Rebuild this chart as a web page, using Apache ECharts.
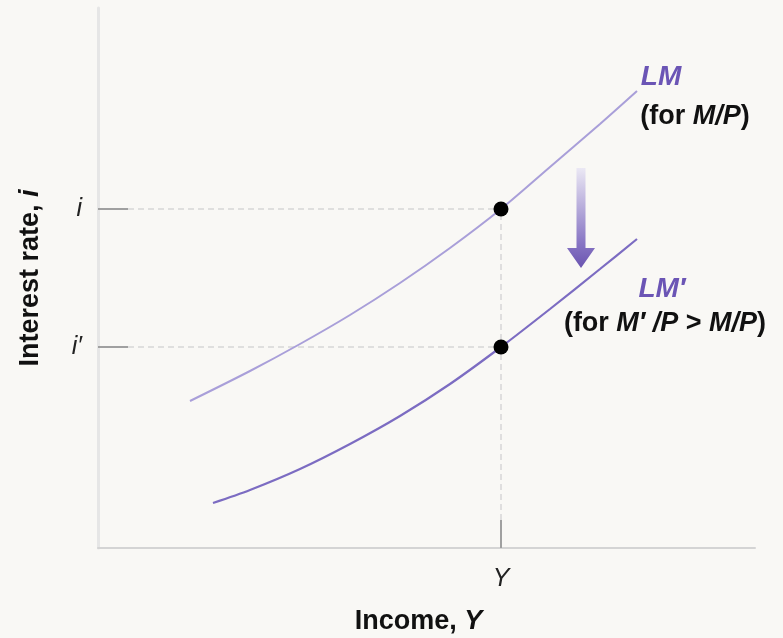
<!DOCTYPE html>
<html>
<head>
<meta charset="utf-8">
<script src="https://cdn.jsdelivr.net/npm/echarts@6/dist/echarts.min.js"></script>
<style>
  html, body { margin: 0; padding: 0; background: #f9f8f5; }
  #chart { width: 783px; height: 638px; }
</style>
</head>
<body>
<div id="chart"></div>
<script>
// Income (horizontal) and interest rate (vertical) in diagram units
const incomeLM = [92, 152, 202, 252, 302, 352, 403, 452, 502, 539];
const rateLM = [147, 177, 204, 233, 265, 300, 339, 381, 424, 457];
const incomeLM2 = [115, 152, 202, 252, 302, 352, 403, 452, 502, 539];
const rateLM2 = [45, 58, 79, 104, 132, 164, 201, 239, 279, 309];

// Equilibrium income and the two interest rates
const eqIncome = 403;
const eqRates = [339, 201];
const rateTickLabels = ['i', 'i\u2032'];
const incomeTickLabels = ['Y'];

const FONT = '"Liberation Sans", Arial, Helvetica, sans-serif';
const purpleText = '#6b55b5';
const FS = 27;

const chart = echarts.init(document.getElementById('chart'), null, { renderer: 'canvas' });

const pairs = (xs, ys) => xs.map((x, k) => [x, ys[k]]);

chart.setOption({
  backgroundColor: '#f9f8f5',
  animation: false,
  grid: { left: 98, right: 28, top: 8, bottom: 90, containLabel: false, outerBoundsMode: 'none' },
  xAxis: {
    type: 'value', min: 0, max: 657,
    splitLine: { show: false },
    axisLine: { show: true, lineStyle: { color: '#d4d4d4', width: 2 } },
    axisTick: { show: true, inside: true, length: 28, customValues: [eqIncome],
      lineStyle: { color: '#a0a0a0', width: 2 } },
    axisLabel: { customValues: [eqIncome], margin: 19,
      formatter: () => incomeTickLabels[0],
      fontFamily: FONT, fontSize: 25, fontStyle: 'italic', color: '#222' },
    name: '{b|Income, }{bi|Y}',
    nameLocation: 'middle', nameGap: 60,
    nameTextStyle: {
      padding: [0, 16, 0, 0],
      rich: {
        b: { fontFamily: FONT, fontSize: FS, fontWeight: 'bold', color: '#111' },
        bi: { fontFamily: FONT, fontSize: FS, fontWeight: 'bold', fontStyle: 'italic', color: '#111' }
      }
    }
  },
  yAxis: {
    type: 'value', min: 0, max: 540,
    splitLine: { show: false },
    axisLine: { show: true, lineStyle: { color: '#e6e6e6', width: 3 } },
    axisTick: { show: true, inside: true, length: 30, customValues: eqRates,
      lineStyle: { color: '#a0a0a0', width: 2 } },
    axisLabel: { customValues: eqRates, margin: 16,
      formatter: (v) => rateTickLabels[eqRates.indexOf(v)],
      fontFamily: FONT, fontSize: 25, fontStyle: 'italic', color: '#222' },
    name: '{b|Interest rate, }{bi|i}',
    nameLocation: 'middle', nameGap: 54,
    nameTextStyle: {
      rich: {
        b: { fontFamily: FONT, fontSize: FS, fontWeight: 'bold', color: '#111' },
        bi: { fontFamily: FONT, fontSize: FS, fontWeight: 'bold', fontStyle: 'italic', color: '#111' }
      }
    }
  },
  series: [
    {
      // Dashed guides from the axes to the equilibrium points
      type: 'line', silent: true, symbol: 'none',
      data: [[30, eqRates[0]], [eqIncome, eqRates[0]]],
      lineStyle: { color: '#d6d6d6', width: 1.5, type: [6, 4] }
    },
    {
      type: 'line', silent: true, symbol: 'none',
      data: [[30, eqRates[1]], [eqIncome, eqRates[1]]],
      lineStyle: { color: '#d6d6d6', width: 1.5, type: [6, 4] }
    },
    {
      type: 'line', silent: true, symbol: 'none',
      data: [[eqIncome, 28], [eqIncome, eqRates[0]]],
      lineStyle: { color: '#d6d6d6', width: 1.5, type: [6, 4] }
    },
    {
      name: 'LM', type: 'line', smooth: 0.3, symbol: 'none',
      data: pairs(incomeLM, rateLM),
      lineStyle: { color: '#a99fd9', width: 2 }
    },
    {
      name: "LM'", type: 'line', smooth: 0.3, symbol: 'none',
      data: pairs(incomeLM2, rateLM2),
      lineStyle: { color: '#7c6cc2', width: 2.2 }
    },
    {
      type: 'scatter', symbol: 'circle', symbolSize: 15,
      data: eqRates.map(r => [eqIncome, r]),
      itemStyle: { color: '#000', opacity: 1 }, z: 5
    }
  ]
});

// Labels and shift arrow, anchored to diagram coordinates
const px = (x, y) => chart.convertToPixel({ gridIndex: 0 }, [x, y]);
const lmLabel = px(563, 471);
const lmSub = px(597, 431);
const lm2Label = px(564, 259);
const lm2Sub = px(567, 224);
const arrowTop = px(483, 380);
const arrowBot = px(483, 280);

const shaftHalf = 4.5, headHalf = 14, headLen = 20;
const ax = arrowTop[0];
const arrowPts = [
  [ax - shaftHalf, arrowTop[1]],
  [ax + shaftHalf, arrowTop[1]],
  [ax + shaftHalf, arrowBot[1] - headLen],
  [ax + headHalf, arrowBot[1] - headLen],
  [ax, arrowBot[1]],
  [ax - headHalf, arrowBot[1] - headLen],
  [ax - shaftHalf, arrowBot[1] - headLen]
];

const boldRich = {
  b: { fontFamily: FONT, fontSize: FS, fontWeight: 'bold', fill: '#111' },
  bi: { fontFamily: FONT, fontSize: FS, fontWeight: 'bold', fontStyle: 'italic', fill: '#111' },
  p: { fontFamily: FONT, fontSize: 28, fontWeight: 'bold', fontStyle: 'italic', fill: purpleText }
};

chart.setOption({
  graphic: [
    {
      type: 'polygon',
      shape: { points: arrowPts },
      style: {
        fill: new echarts.graphic.LinearGradient(0, 0, 0, 1, [
          { offset: 0, color: '#ebe8f4' },
          { offset: 0.75, color: '#8876c4' },
          { offset: 1, color: '#6a54b0' }
        ])
      },
      z: 10
    },
    { type: 'text', x: lmLabel[0], y: lmLabel[1],
      style: { text: '{p|LM}', rich: boldRich, align: 'center', verticalAlign: 'middle' }, z: 10 },
    { type: 'text', x: lmSub[0], y: lmSub[1],
      style: { text: '{b|(for }{bi|M/P}{b|)}', rich: boldRich, align: 'center', verticalAlign: 'middle' }, z: 10 },
    { type: 'text', x: lm2Label[0], y: lm2Label[1],
      style: { text: '{p|LM\u2032}', rich: boldRich, align: 'center', verticalAlign: 'middle' }, z: 10 },
    { type: 'text', x: lm2Sub[0], y: lm2Sub[1],
      style: { text: '{b|(for }{bi|M\u2032 /P}{b| > }{bi|M/P}{b|)}', rich: boldRich, align: 'center', verticalAlign: 'middle' }, z: 10 }
  ]
});
</script>
</body>
</html>
